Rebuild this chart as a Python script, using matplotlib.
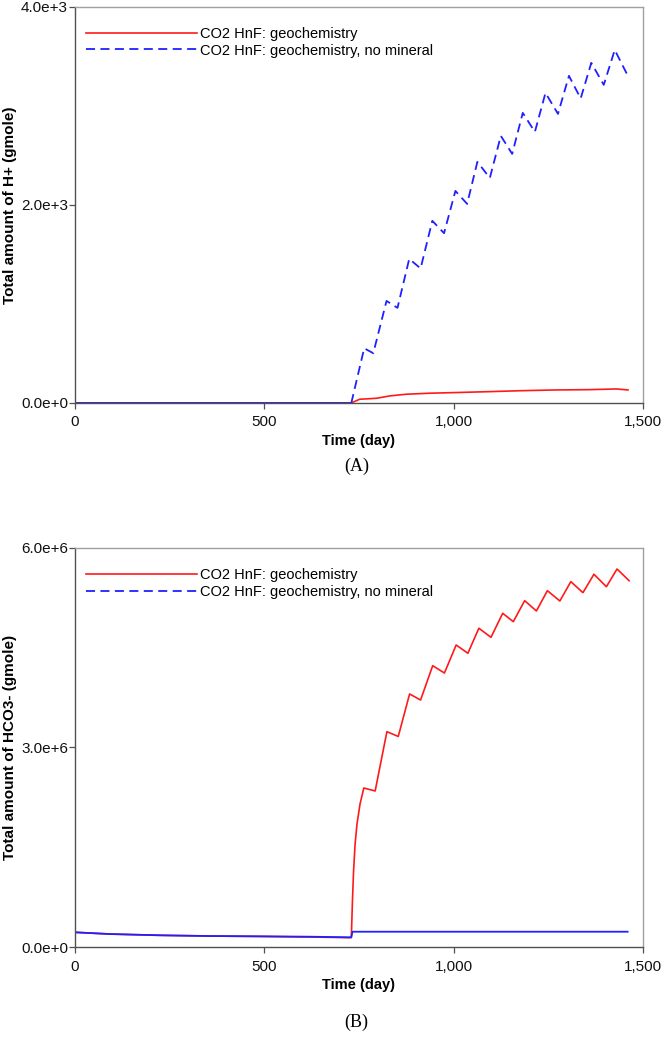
import matplotlib
matplotlib.use("Agg")
import matplotlib.pyplot as plt
from matplotlib.ticker import FuncFormatter, FixedLocator

# panel A: total H+ (gmole)
h_pre_days = [0, 730]
h_pre_vals = [0, 0]
h_nomin_days = [730, 764, 788, 823, 852, 883, 913, 944, 975, 1005, 1036, 1063, 1096,
                1125, 1155, 1183, 1215, 1243, 1276, 1305, 1336, 1364, 1397, 1426, 1458]
h_nomin_vals = [0, 552, 502, 1030, 960, 1455, 1358, 1839, 1714, 2141, 2010, 2434, 2272,
                2697, 2515, 2929, 2737, 3131, 2919, 3303, 3075, 3434, 3212, 3565, 3323]
h_geo_days = [0, 730, 752, 797, 832, 876, 938, 999, 1096, 1184, 1272, 1360, 1430, 1461]
h_geo_vals = [0, 0, 37, 47, 71, 88, 98, 104, 114, 124, 131, 134, 141, 131]

# panel B: total HCO3- (gmole)
hco3_geo_days = [0, 92, 224, 357, 489, 621, 730, 733, 736, 740, 745, 753, 763, 793, 824, 854,
                 884, 913, 945, 976, 1007, 1038, 1067, 1099, 1130, 1158, 1188, 1219,
                 1248, 1281, 1310, 1342, 1371, 1404, 1432, 1464]
hco3_geo_vals = [221e3, 195e3, 176e3, 165e3, 158e3, 150e3, 140e3, 700e3, 1150e3, 1550e3,
                 1850e3, 2150e3, 2391e3, 2346e3, 3238e3, 3166e3, 3805e3, 3714e3, 4230e3,
                 4120e3, 4541e3, 4417e3, 4793e3, 4657e3, 5018e3, 4892e3, 5208e3, 5053e3,
                 5358e3, 5203e3, 5494e3, 5328e3, 5605e3, 5418e3, 5684e3, 5508e3]
hco3_nomin_days = [0, 92, 224, 357, 489, 621, 726, 730, 733, 1460]
hco3_nomin_vals = [221e3, 195e3, 176e3, 165e3, 161e3, 155e3, 146e3, 150e3, 230e3, 230e3]

x_ticks = [0, 500, 1000, 1500]
h_ticks = [0, 2000, 4000]
hco3_ticks = [0, 3e6, 6e6]
labels = ["CO2 HnF: geochemistry", "CO2 HnF: geochemistry, no mineral"]

plt.rcParams["font.family"] = ["Liberation Sans", "DejaVu Sans"]


def sci(v, _pos=None):
    if v == 0:
        return "0.0e+0"
    m, e = f"{v:.1e}".split("e")
    return f"{m}e{int(e):+d}"


def style(ax, yticks, ylabel):
    ax.set_xlim(0, 1500)
    ax.set_ylim(yticks[0], yticks[-1])
    ax.xaxis.set_major_locator(FixedLocator(x_ticks))
    ax.yaxis.set_major_locator(FixedLocator(yticks))
    ax.xaxis.set_major_formatter(FuncFormatter(lambda v, p: f"{int(v):,}"))
    ax.yaxis.set_major_formatter(FuncFormatter(sci))
    for side in ("left", "bottom"):
        ax.spines[side].set_color("#505050")
    for side in ("top", "right"):
        ax.spines[side].set_color("#a0a0a0")
    for sp in ax.spines.values():
        sp.set_linewidth(1.0)
    ax.tick_params(direction="out", length=4, width=0.9, color="#505050",
                   labelsize=11, labelcolor="#111111")
    ax.tick_params(axis="x", pad=5)
    ax.tick_params(axis="y", pad=1)
    ax.set_xlabel("Time (day)", fontsize=10.5, fontweight="bold", labelpad=3)
    ax.set_ylabel(ylabel, fontsize=11, fontweight="bold", labelpad=3)
    ax.legend(loc="upper left", bbox_to_anchor=(0.02, 0.95), frameon=False,
              fontsize=10.5, handlelength=7.6, handletextpad=0.2,
              labelspacing=0.2, borderaxespad=0, borderpad=0)


fig = plt.figure(figsize=(6.64, 10.52), dpi=100)
ax1 = fig.add_axes([0.113, 0.617, 0.855, 0.3765])
ax2 = fig.add_axes([0.113, 0.0998, 0.855, 0.3793])

ax1.plot(h_geo_days, h_geo_vals, color="#ff1a1a", lw=1.2, label=labels[0])
ax1.plot(h_pre_days, h_pre_vals, color="#2020ff", lw=1.2)
ax1.plot(h_nomin_days, h_nomin_vals, color="#2020ff", lw=1.3,
         dashes=(5, 3), label=labels[1])
style(ax1, h_ticks, "Total amount of H+ (gmole)")

ax2.plot(hco3_geo_days, hco3_geo_vals, color="#ff1a1a", lw=1.2, label=labels[0])
ax2.plot([], [], color="#2020ff", lw=1.3, dashes=(5, 3), label=labels[1])
ax2.plot(hco3_nomin_days, hco3_nomin_vals, color="#2020ff", lw=1.3)
style(ax2, hco3_ticks, "Total amount of HCO3- (gmole)")

fig.text(0.537, 1 - 466 / 1052, "(A)", family="Liberation Serif", fontsize=13,
         ha="center", va="center")
fig.text(0.537, 1 - 1022 / 1052, "(B)", family="Liberation Serif", fontsize=13,
         ha="center", va="center")

fig.savefig("out.png", dpi=100)
